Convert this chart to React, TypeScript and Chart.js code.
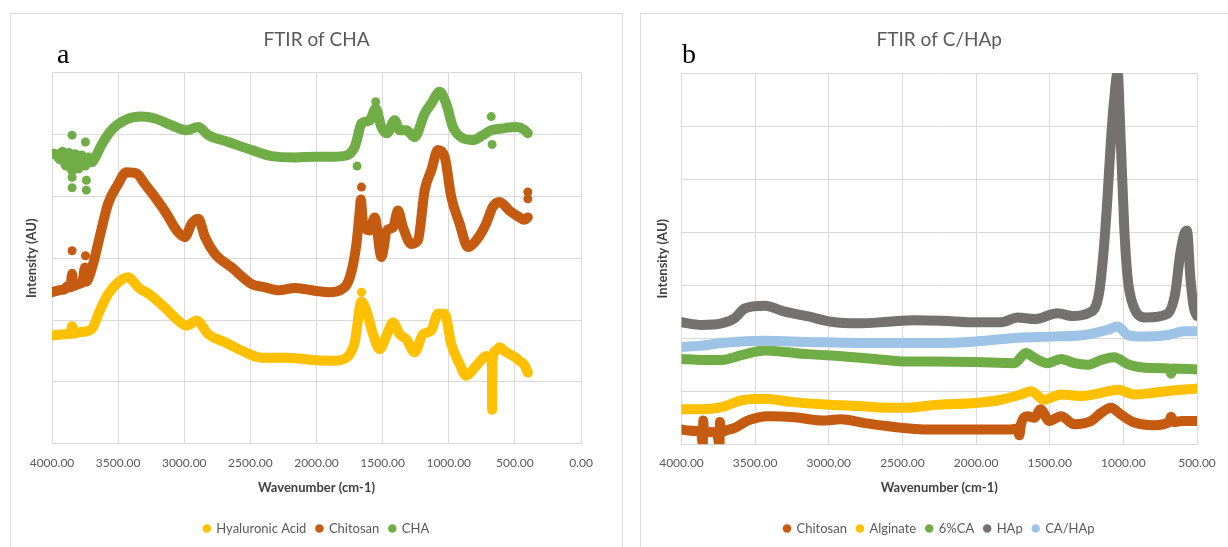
import React, { useEffect, useRef } from "react";
import { Chart, registerables } from "chart.js";

Chart.register(...registerables);

const FONT = "Lato, 'Open Sans', sans-serif";

// ---------- Panel a: FTIR of CHA ----------
const aXTicksMin = 0;
const aXTicksMax = 4000;

const haWn = [4000, 3904, 3860, 3848, 3835, 3803, 3702, 3639, 3576, 3500, 3424, 3348, 3247, 3146, 3045, 2982, 2906, 2818, 2692, 2540, 2414, 2237, 2000, 1874, 1774, 1711, 1660, 1623, 1572, 1522, 1467, 1421, 1371, 1321, 1258, 1195, 1132, 1082, 1031, 981, 918, 868, 792, 717, 685, 673, 672, 671, 645, 616, 580, 541, 500, 465, 430, 402];
const haInt = [1.75, 1.77, 1.78, 1.9, 1.78, 1.8, 1.85, 2.15, 2.42, 2.61, 2.69, 2.53, 2.39, 2.2, 1.99, 1.91, 1.99, 1.77, 1.64, 1.48, 1.39, 1.39, 1.35, 1.34, 1.39, 1.64, 2.3, 2.15, 1.77, 1.53, 1.77, 1.96, 1.77, 1.69, 1.48, 1.77, 1.83, 2.1, 2.1, 1.61, 1.29, 1.1, 1.26, 1.42, 1.36, 1.3, 0.55, 1.3, 1.5, 1.56, 1.5, 1.45, 1.4, 1.34, 1.28, 1.15];
const haOutWn = [1660, 672, 672, 672];
const haOutInt = [2.45, 1.04, 0.85, 0.64];

const chWn = [4000, 3950, 3904, 3880, 3860, 3848, 3840, 3803, 3770, 3750, 3740, 3727, 3690, 3652, 3576, 3500, 3437, 3361, 3298, 3222, 3134, 3058, 2995, 2944, 2894, 2843, 2768, 2641, 2490, 2389, 2288, 2162, 2000, 1899, 1824, 1748, 1698, 1673, 1665, 1650, 1635, 1597, 1560, 1509, 1467, 1421, 1384, 1346, 1283, 1233, 1182, 1132, 1082, 1031, 981, 918, 855, 792, 717, 667, 616, 541, 465, 430, 402];
const chInt = [2.45, 2.48, 2.5, 2.55, 2.53, 2.75, 2.55, 2.58, 2.62, 2.85, 2.62, 2.66, 2.9, 3.23, 3.88, 4.2, 4.39, 4.37, 4.2, 3.99, 3.72, 3.45, 3.34, 3.56, 3.64, 3.34, 3.07, 2.85, 2.58, 2.53, 2.48, 2.52, 2.47, 2.45, 2.48, 2.69, 3.23, 3.77, 3.95, 3.6, 3.5, 3.45, 3.66, 3.02, 3.45, 3.5, 3.77, 3.5, 3.23, 3.29, 4.1, 4.42, 4.75, 4.64, 3.99, 3.56, 3.18, 3.29, 3.56, 3.83, 3.91, 3.77, 3.66, 3.62, 3.66];
const chOutWn = [3848, 3747, 1660, 402, 402];
const chOutInt = [3.12, 3.04, 4.15, 4.07, 3.96];

const chaWn = [4000, 3970, 3940, 3920, 3895, 3870, 3848, 3825, 3800, 3775, 3750, 3725, 3700, 3675, 3626, 3550, 3450, 3323, 3222, 3096, 2982, 2894, 2818, 2667, 2490, 2338, 2162, 2000, 1874, 1774, 1711, 1690, 1660, 1597, 1552, 1509, 1467, 1409, 1371, 1321, 1258, 1182, 1132, 1069, 1019, 968, 893, 818, 742, 679, 591, 490, 430, 402];
const chaInt = [4.69, 4.68, 4.6, 4.72, 4.5, 4.7, 4.42, 4.68, 4.45, 4.66, 4.5, 4.63, 4.55, 4.62, 4.83, 5.07, 5.23, 5.29, 5.26, 5.15, 5.07, 5.12, 4.99, 4.88, 4.75, 4.65, 4.63, 4.64, 4.64, 4.66, 4.8, 4.95, 5.18, 5.23, 5.42, 5.12, 5.02, 5.23, 5.07, 5.07, 4.96, 5.34, 5.5, 5.69, 5.5, 5.12, 4.94, 4.91, 4.99, 5.07, 5.1, 5.12, 5.08, 5.02];
const chaOutWn = [3848, 3747, 3848, 3848, 3740, 3740, 1693, 1552, 679, 672];
const chaOutInt = [4.99, 4.88, 4.31, 4.14, 4.1, 4.26, 4.49, 5.53, 5.29, 4.84];

// ---------- Panel b: FTIR of C/HAp ----------
const bXTicksMin = 500;
const bXTicksMax = 4000;

const bChWn = [4000, 3950, 3900, 3870, 3855, 3852, 3848, 3800, 3760, 3742, 3739, 3735, 3700, 3638, 3547, 3412, 3231, 3050, 2914, 2778, 2597, 2416, 2283, 2000, 1762, 1720, 1706, 1695, 1649, 1604, 1563, 1502, 1423, 1333, 1219, 1152, 1084, 1016, 925, 789, 690, 676, 660, 600, 500];
const bChInt = [0.28, 0.26, 0.25, 0.24, 0.02, 0.45, 0.22, 0.23, 0.22, 0.0, 0.42, 0.22, 0.26, 0.31, 0.45, 0.53, 0.51, 0.45, 0.47, 0.41, 0.34, 0.29, 0.28, 0.28, 0.28, 0.3, 0.17, 0.38, 0.53, 0.5, 0.66, 0.44, 0.53, 0.38, 0.44, 0.59, 0.69, 0.56, 0.41, 0.36, 0.42, 0.52, 0.42, 0.44, 0.44];

const algWn = [4000, 3864, 3729, 3593, 3434, 3253, 3027, 2801, 2575, 2416, 2283, 2000, 1830, 1695, 1627, 1536, 1423, 1287, 1152, 1038, 925, 744, 608, 500];
const algInt = [0.66, 0.66, 0.7, 0.83, 0.86, 0.8, 0.75, 0.72, 0.69, 0.7, 0.74, 0.78, 0.84, 0.94, 1.0, 0.84, 0.94, 0.91, 0.97, 1.03, 0.94, 0.99, 1.03, 1.05];

const caWn = [4000, 3864, 3729, 3593, 3434, 3299, 3140, 2914, 2688, 2461, 2283, 2000, 1740, 1661, 1604, 1514, 1423, 1333, 1242, 1152, 1061, 970, 812, 690, 676, 662, 500];
const caInt = [1.61, 1.59, 1.59, 1.68, 1.77, 1.74, 1.7, 1.66, 1.61, 1.56, 1.56, 1.55, 1.53, 1.72, 1.63, 1.53, 1.61, 1.53, 1.5, 1.59, 1.64, 1.51, 1.44, 1.43, 1.33, 1.43, 1.41];

const hapWn = [4000, 3864, 3729, 3638, 3570, 3434, 3299, 3140, 2982, 2801, 2597, 2416, 2235, 2000, 1830, 1717, 1604, 1446, 1350, 1235, 1166, 1132, 1109, 1086, 1063, 1040, 1017, 994, 971, 936, 844, 706, 649, 614, 587, 568, 545, 522, 500];
const hapInt = [2.3, 2.25, 2.28, 2.38, 2.56, 2.61, 2.5, 2.41, 2.31, 2.28, 2.31, 2.34, 2.33, 2.3, 2.3, 2.39, 2.36, 2.47, 2.42, 2.48, 2.83, 3.71, 4.6, 5.66, 6.48, 6.99, 5.66, 4.09, 3.14, 2.64, 2.39, 2.45, 2.83, 3.59, 3.96, 4.03, 3.14, 2.58, 2.42];

const cahWn = [4000, 3864, 3729, 3593, 3434, 3140, 2801, 2461, 2283, 2000, 1717, 1491, 1265, 1106, 1038, 970, 880, 699, 586, 500];
const cahInt = [1.84, 1.86, 1.91, 1.94, 1.95, 1.93, 1.91, 1.91, 1.91, 1.94, 2.01, 2.03, 2.06, 2.16, 2.22, 2.06, 2.03, 2.06, 2.13, 2.13];

type Series = {
  name: string;
  color: string;
  wn: number[];
  val: number[];
  outWn?: number[];
  outVal?: number[];
};

const seriesA: Series[] = [
  { name: "Hyaluronic Acid", color: "#FFC000", wn: haWn, val: haInt, outWn: haOutWn, outVal: haOutInt },
  { name: "Chitosan", color: "#C55A11", wn: chWn, val: chInt, outWn: chOutWn, outVal: chOutInt },
  { name: "CHA", color: "#70AD47", wn: chaWn, val: chaInt, outWn: chaOutWn, outVal: chaOutInt },
];

const seriesB: Series[] = [
  { name: "Chitosan", color: "#C55A11", wn: bChWn, val: bChInt },
  { name: "Alginate", color: "#FFC000", wn: algWn, val: algInt },
  { name: "6%CA", color: "#70AD47", wn: caWn, val: caInt },
  { name: "HAp", color: "#767171", wn: hapWn, val: hapInt },
  { name: "CA/HAp", color: "#9DC3E6", wn: cahWn, val: cahInt },
];

function pts(xs: number[], ys: number[]) {
  return xs.map((x, i) => ({ x, y: ys[i] }));
}

type Cfg = {
  title: string;
  series: Series[];
  xMin: number;
  xMax: number;
  yMax: number;
  yWidth: number;
  xHeight: number;
  titlePadTop: number;
  titlePadBottom: number;
  padRight: number;
  yTitlePad: number;
};

function makeConfig(c: Cfg): any {
  const N = c.series.length;
  const datasets: any[] = [];
  c.series.forEach((s, i) => {
    datasets.push({
      label: s.name,
      data: pts(s.wn, s.val),
      borderColor: s.color,
      backgroundColor: s.color,
      borderWidth: 10,
      borderCapStyle: "round",
      borderJoinStyle: "round",
      pointRadius: 0,
      showLine: true,
      cubicInterpolationMode: "monotone",
      fill: false,
      order: N - i,
    });
    if (s.outWn && s.outVal) {
      datasets.push({
        label: s.name + " (outliers)",
        data: pts(s.outWn, s.outVal),
        borderColor: s.color,
        backgroundColor: s.color,
        pointRadius: 4.5,
        pointBorderWidth: 0,
        showLine: false,
        order: N - i,
      });
    }
  });

  return {
    type: "scatter",
    data: { datasets },
    options: {
      animation: false,
      responsive: false,
      events: [],
      layout: { padding: { left: 0, top: 0, right: c.padRight, bottom: 0 } },
      plugins: {
        title: {
          display: true,
          fullSize: false,
          text: c.title,
          color: "#595959",
          font: { family: FONT, size: 19, weight: "normal", lineHeight: 1.2 },
          padding: { top: c.titlePadTop, bottom: c.titlePadBottom },
        },
        legend: {
          display: true,
          fullSize: false,
          position: "bottom",
          labels: {
            usePointStyle: true,
            boxWidth: 6,
            boxHeight: 6,
            padding: 10,
            color: "#595959",
            font: { family: FONT, size: 13 },
            generateLabels: () =>
              c.series.map((s, i) => ({
                text: s.name,
                fillStyle: s.color,
                strokeStyle: s.color,
                lineWidth: 0,
                pointStyle: "circle",
                hidden: false,
                datasetIndex: i,
                fontColor: "#595959",
              })),
          },
        },
        tooltip: { enabled: false },
      },
      scales: {
        x: {
          type: "linear",
          reverse: true,
          min: c.xMin,
          max: c.xMax,
          afterFit: (s: any) => {
            s.height = c.xHeight;
          },
          ticks: {
            stepSize: 500,
            padding: 12,
            maxRotation: 0,
            autoSkip: false,
            color: "#595959",
            font: { family: FONT, size: 12 },
            callback: (v: any) => Number(v).toFixed(2),
          },
          grid: { color: "#d9d9d9", drawTicks: false, lineWidth: 1 },
          border: { color: "#d9d9d9" },
          title: {
            display: true,
            text: "Wavenumber (cm-1)",
            color: "#404040",
            font: { family: FONT, size: 13, weight: "bold", lineHeight: 1.2 },
            padding: { top: 0, bottom: 16 },
          },
        },
        y: {
          type: "linear",
          min: 0,
          max: c.yMax,
          afterFit: (s: any) => {
            s.width = c.yWidth;
          },
          ticks: { display: false, stepSize: 1 },
          grid: { color: "#d9d9d9", drawTicks: false, lineWidth: 1 },
          border: { color: "#d9d9d9" },
          title: {
            display: true,
            text: "Intensity (AU)",
            color: "#404040",
            font: { family: FONT, size: 13, weight: "bold", lineHeight: 1.2 },
            padding: { top: c.yTitlePad, bottom: 0 },
          },
        },
      },
    },
  };
}

function ChartPanel(props: { left: number; width: number; height: number; cfg: Cfg; letter: string; letterLeft: number }) {
  const ref = useRef<HTMLCanvasElement>(null);
  useEffect(() => {
    const chart = new Chart(ref.current as HTMLCanvasElement, makeConfig(props.cfg));
    return () => chart.destroy();
  }, []);
  return (
    <>
      <div
        style={{
          position: "absolute",
          left: props.left,
          top: 13,
          width: props.width,
          height: 700,
          border: "1px solid #d9d9d9",
          boxSizing: "border-box",
        }}
      />
      <canvas
        ref={ref}
        width={props.width}
        height={props.height}
        style={{ position: "absolute", left: props.left, top: 13, display: "block" }}
      />
      <div
        style={{
          position: "absolute",
          left: props.letterLeft,
          top: 40,
          fontFamily: "'Liberation Serif', 'Times New Roman', serif",
          fontSize: 28,
          lineHeight: "28px",
          color: "#000",
        }}
      >
        {props.letter}
      </div>
    </>
  );
}

export default function App() {
  const cfgA: Cfg = {
    title: "FTIR of CHA",
    series: seriesA,
    xMin: aXTicksMin,
    xMax: aXTicksMax,
    yMax: 6,
    yWidth: 42,
    xHeight: 68.3,
    titlePadTop: 15.6,
    titlePadBottom: 21.3,
    padRight: 42,
    yTitlePad: 13.8,
  };
  const cfgB: Cfg = {
    title: "FTIR of C/HAp",
    series: seriesB,
    xMin: bXTicksMin,
    xMax: bXTicksMax,
    yMax: 7,
    yWidth: 41.5,
    xHeight: 67.7,
    titlePadTop: 15.6,
    titlePadBottom: 21.6,
    padRight: 42,
    yTitlePad: 14.7,
  };
  return (
    <div
      style={{
        position: "fixed",
        left: 0,
        top: 0,
        width: 1228,
        height: 547,
        overflow: "hidden",
        background: "#fff",
      }}
    >
      <ChartPanel left={10} width={613} height={532} cfg={cfgA} letter="a" letterLeft={57} />
      <ChartPanel left={640} width={599} height={532} cfg={cfgB} letter="b" letterLeft={682} />
    </div>
  );
}
